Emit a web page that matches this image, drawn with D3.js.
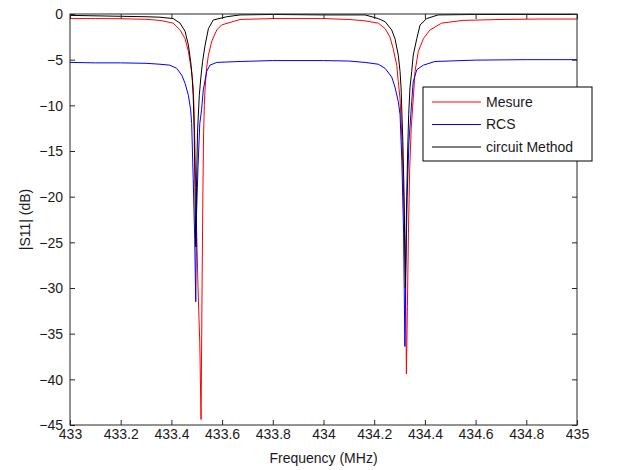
<!DOCTYPE html>
<html><head><meta charset="utf-8">
<script src="https://cdn.jsdelivr.net/npm/d3@7"></script>
<style>body{margin:0;background:#fff}svg{display:block}text{font-family:"Liberation Sans",Arial,sans-serif}</style>
</head><body>
<svg id="c" width="618" height="470"></svg>
<script>
const seriesNames = ["Mesure", "RCS", "circuit Method"];
const seriesColors = ["#ff0000", "#0000ff", "#000000"];
const xTicks = [433, 433.2, 433.4, 433.6, 433.8, 434, 434.2, 434.4, 434.6, 434.8, 435];
const yTicks = [0, -5, -10, -15, -20, -25, -30, -35, -40, -45];

// [frequency MHz, |S11| dB]
const mesure = [
 [433.0,-0.5],[433.1,-0.5],[433.2,-0.52],[433.3,-0.58],[433.355,-0.7],[433.407,-1.0],[433.434,-1.75],
 [433.454,-2.7],[433.467,-4.1],[433.480,-6.3],[433.486,-8.1],[433.490,-11],[433.494,-16],[433.498,-22],
 [433.505,-30],[433.512,-36],[433.517,-44.4],[433.521,-30],[433.524,-20],[433.527,-13],[433.530,-10],
 [433.533,-8.1],[433.539,-5.9],[433.546,-4.5],[433.559,-3.0],[433.579,-1.75],[433.598,-1.2],[433.671,-0.6],
 [433.8,-0.5],[434.0,-0.5],[434.1,-0.6],[434.164,-0.75],[434.216,-1.0],[434.243,-1.6],[434.262,-2.5],
 [434.275,-3.8],[434.289,-5.6],[434.295,-7.4],[434.302,-9.3],[434.310,-14],[434.318,-22],[434.324,-30],
 [434.327,-39.4],[434.331,-32],[434.335,-24],[434.340,-17],[434.346,-12.5],[434.354,-9.3],[434.361,-6.3],
 [434.374,-4.1],[434.394,-2.7],[434.420,-1.75],[434.466,-1.0],[434.55,-0.7],[434.7,-0.6],[434.85,-0.55],[435.0,-0.55]
];
const rcs = [
 [433.0,-5.3],[433.1,-5.35],[433.2,-5.35],[433.3,-5.4],[433.355,-5.5],[433.394,-5.6],[433.421,-5.95],
 [433.441,-6.7],[433.454,-7.6],[433.467,-8.9],[433.476,-10.5],[433.480,-12],[433.486,-18],[433.492,-24.7],
 [433.496,-31.5],[433.499,-22],[433.505,-16.7],[433.512,-12],[433.519,-10.5],[433.526,-8.3],[433.539,-6.3],
 [433.552,-5.6],[433.579,-5.3],[433.671,-5.2],[433.8,-5.1],[434.0,-5.1],[434.1,-5.15],[434.164,-5.3],
 [434.216,-5.5],[434.243,-5.95],[434.269,-6.9],[434.282,-8.0],[434.295,-9.6],[434.302,-11],[434.309,-16],
 [434.316,-24],[434.321,-36.4],[434.325,-28],[434.330,-20],[434.337,-14],[434.348,-9.6],[434.354,-7.4],
 [434.368,-6.1],[434.394,-5.6],[434.440,-5.2],[434.6,-5.05],[434.8,-5.0],[435.0,-5.0]
];
const circuit = [
 [433.0,-0.15],[433.2,-0.25],[433.3,-0.3],[433.355,-0.35],[433.407,-0.5],[433.434,-1.0],[433.454,-1.9],
 [433.467,-3.4],[433.476,-5.2],[433.482,-7],[433.486,-8.9],[433.490,-13],[433.493,-19],[433.496,-25.5],
 [433.499,-19],[433.503,-13],[433.510,-8.9],[433.516,-7],[433.523,-5.2],[433.533,-3.4],[433.546,-1.6],
 [433.565,-0.66],[433.618,-0.3],[433.671,-0.1],[433.8,-0.05],[434.0,-0.1],[434.164,-0.1],[434.216,-0.5],
 [434.243,-0.84],[434.269,-1.75],[434.282,-2.7],[434.295,-4.5],[434.302,-6.3],[434.306,-8.1],[434.313,-14],
 [434.318,-20],[434.323,-30],[434.327,-22],[434.332,-15],[434.336,-11],[434.341,-8.1],[434.348,-6.3],
 [434.354,-4.5],[434.368,-2.7],[434.381,-1.2],[434.407,-0.5],[434.452,-0.1],[434.6,-0.05],[435.0,-0.05]
];
const allSeries = [mesure, rcs, circuit];

const L = 70, R = 577, T = 14, B = 425;
const svg = d3.select("#c");
const x = d3.scaleLinear().domain([433, 435]).range([L, R]);
const y = d3.scaleLinear().domain([-45, 0]).range([B, T]);

svg.append("defs").append("clipPath").attr("id", "clip")
  .append("rect").attr("x", L).attr("y", T).attr("width", R - L).attr("height", B - T);

const line = d3.line().x(d => x(d[0])).y(d => y(d[1]));
const g = svg.append("g").attr("clip-path", "url(#clip)");
allSeries.forEach((s, i) => {
  g.append("path").datum(s).attr("d", line).attr("fill", "none")
    .attr("stroke", seriesColors[i]).attr("stroke-width", 1);
});

// axes
const fmt = d => String(+d.toFixed(1));
const axB = svg.append("g").attr("transform", `translate(0,${B})`)
  .call(d3.axisBottom(x).tickValues(xTicks).tickSize(-5).tickPadding(6).tickFormat(fmt));
const axT = svg.append("g").attr("transform", `translate(0,${T})`)
  .call(d3.axisTop(x).tickValues(xTicks).tickSize(-5).tickFormat(""));
const axL = svg.append("g").attr("transform", `translate(${L},0)`)
  .call(d3.axisLeft(y).tickValues(yTicks).tickSize(-5).tickPadding(7).tickFormat(d3.format("d")));
const axR = svg.append("g").attr("transform", `translate(${R},0)`)
  .call(d3.axisRight(y).tickValues(yTicks).tickSize(-5).tickFormat(""));
[axB, axT, axL, axR].forEach(a => {
  a.select(".domain").remove();
  a.selectAll("line").attr("stroke", "#262626");
  a.selectAll("text").attr("font-size", 14).attr("fill", "#1a1a1a")
    .attr("font-family", '"Liberation Sans",Arial,sans-serif');
});
axB.selectAll("text").attr("dy", "0.6em");
axL.selectAll("text").attr("dy", "0.35em");

svg.append("rect").attr("x", L).attr("y", T).attr("width", R - L).attr("height", B - T)
  .attr("fill", "none").attr("stroke", "#262626").attr("stroke-width", 1);

svg.append("text").attr("x", (L + R) / 2).attr("y", 463).attr("text-anchor", "middle")
  .attr("font-size", 14).attr("fill", "#1a1a1a").text("Frequency (MHz)");
svg.append("text").attr("transform", `translate(30,${(T + B) / 2}) rotate(-90)`)
  .attr("text-anchor", "middle").attr("font-size", 14).attr("fill", "#1a1a1a").text("|S11| (dB)");

// legend
const lg = svg.append("g").attr("transform", "translate(423,87)");
lg.append("rect").attr("x", 0).attr("y", 0).attr("width", 169).attr("height", 74)
  .attr("fill", "#fff").attr("stroke", "#000").attr("stroke-width", 1);
seriesNames.forEach((n, i) => {
  const yy = 15 + i * 22.5;
  lg.append("line").attr("x1", 9).attr("x2", 58).attr("y1", yy).attr("y2", yy)
    .attr("stroke", seriesColors[i]).attr("stroke-width", 1);
  lg.append("text").attr("x", 63).attr("y", yy).attr("dy", "0.35em")
    .attr("font-size", 14).attr("fill", "#1a1a1a").text(n);
});
</script>
</body></html>
